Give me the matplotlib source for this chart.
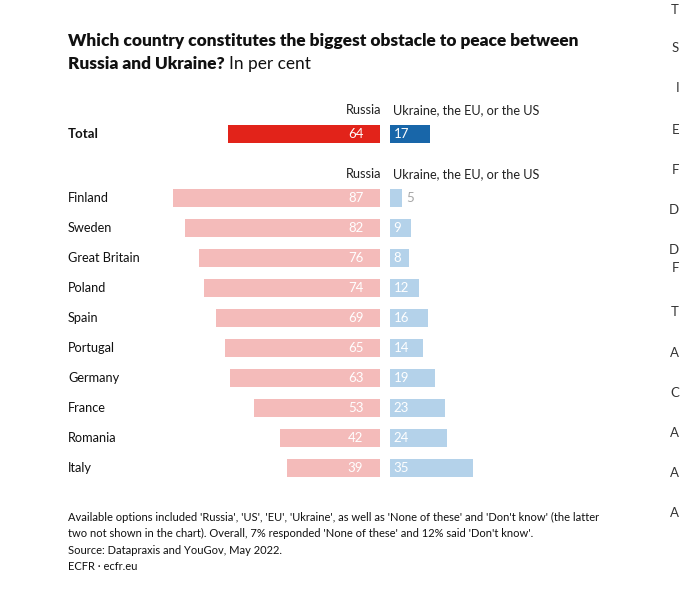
import matplotlib
matplotlib.use('Agg')
import matplotlib.pyplot as plt

plt.rcParams['font.family'] = ['Lato', 'DejaVu Sans']

countries = ['Finland', 'Sweden', 'Great Britain', 'Poland', 'Spain',
             'Portugal', 'Germany', 'France', 'Romania', 'Italy']
russia = [87, 82, 76, 74, 69, 65, 63, 53, 42, 39]
west = [5, 9, 8, 12, 16, 14, 19, 23, 24, 35]
total_russia = 64
total_west = 17

RED = '#e2231a'
BLUE = '#1866a9'
PINK = '#f4bbba'
LIGHTBLUE = '#b4d2ea'

W, H = 680, 595
fig = plt.figure(figsize=(W / 100, H / 100), dpi=100)
fig.patch.set_facecolor('white')


def px_x(x):
    return x / W


def px_y(y):
    return 1 - y / H


# axes geometry in pixels: rows are 30 px apart, Total row centred at y=134
top_px, bot_px = 110, 490
unit = 2.38  # pixels per percent
left_ax = fig.add_axes([px_x(380 - 100 * unit), px_y(bot_px),
                        100 * unit / W, (bot_px - top_px) / H])
right_ax = fig.add_axes([px_x(390), px_y(bot_px),
                         100 * unit / W, (bot_px - top_px) / H])
for ax in (left_ax, right_ax):
    ax.set_xlim(0, 100)
    ax.set_ylim((bot_px - 134) / 30, (top_px - 134) / 30)
    ax.axis('off')
left_ax.invert_xaxis()

y_total = 0
y_rows = [64 / 30 + i for i in range(len(countries))]
bh = 0.6

left_ax.barh(y_total, total_russia, height=bh, color=RED)
right_ax.barh(y_total, total_west, height=bh, color=BLUE)
left_ax.barh(y_rows, russia, height=bh, color=PINK)
right_ax.barh(y_rows, west, height=bh, color=LIGHTBLUE)

fs = 9.5
left_ax.text(7, y_total, str(total_russia), color='white', ha='right',
             va='center', fontsize=fs)
right_ax.text(1.5, y_total, str(total_west), color='white', ha='left',
              va='center', fontsize=fs)
for y, r, w in zip(y_rows, russia, west):
    left_ax.text(7, y, str(r), color='white', ha='right', va='center',
                 fontsize=fs)
    if w < 7:
        right_ax.text(w + 1.8, y, str(w), color='#a6a6a6', ha='left',
                      va='center', fontsize=fs)
    else:
        right_ax.text(1.5, y, str(w), color='white', ha='left',
                      va='center', fontsize=fs)

# row labels
fig.text(px_x(68), px_y(134), 'Total', fontsize=fs, fontweight='bold',
         va='center', ha='left', color='#111111')
for y, c in zip(y_rows, countries):
    fig.text(px_x(68), px_y(134 + 30 * y), c, fontsize=9.2, va='center',
             ha='left', color='#111111')

# column headers
for hy in (110, 174):
    fig.text(px_x(381), px_y(hy), 'Russia', fontsize=9.2, ha='right',
             va='center', color='#222222')
    fig.text(px_x(393), px_y(hy), 'Ukraine, the EU, or the US', fontsize=9.2,
             ha='left', va='center', color='#222222')

# title
fs_t = 12.4
fig.text(px_x(68), px_y(41),
         'Which country constitutes the biggest obstacle to peace between',
         fontsize=fs_t, fontweight='heavy', va='center', ha='left',
         color='#111111')
t = fig.text(px_x(68), px_y(64), 'Russia and Ukraine?', fontsize=fs_t,
             fontweight='heavy', va='center', ha='left', color='#111111')
fig.canvas.draw()
bb = t.get_window_extent()
fig.text(bb.x1 / W + 4 / W, px_y(64), 'In per cent', fontsize=fs_t,
         va='center', ha='left', color='#111111')

# footnotes
notes = [
    (517, "Available options included 'Russia', 'US', 'EU', 'Ukraine', as well as "
          "'None of these' and 'Don't know' (the latter"),
    (533, "two not shown in the chart). Overall, 7% responded 'None of these' "
          "and 12% said 'Don't know'."),
    (551, 'Source: Datapraxis and YouGov, May 2022.'),
    (567, 'ECFR \u00b7 ecfr.eu'),
]
for y, s in notes:
    fig.text(px_x(68), px_y(y), s, fontsize=8.0, va='center', ha='left',
             color='#111111')

# letters of the neighbouring page column at the right edge
edge = [(10, 'T'), (48, 'S'), (88, 'I'), (130, 'E'), (170, 'F'), (210, 'D'),
        (250, 'D'), (268, 'F'), (312, 'T'), (353, 'A'), (393, 'C'),
        (433, 'A'), (473, 'A'), (513, 'A')]
for y, s in edge:
    fig.text(px_x(679), px_y(y), s, fontsize=9.5, va='center', ha='right',
             color='#333333')

fig.savefig('out.png', dpi=100)
